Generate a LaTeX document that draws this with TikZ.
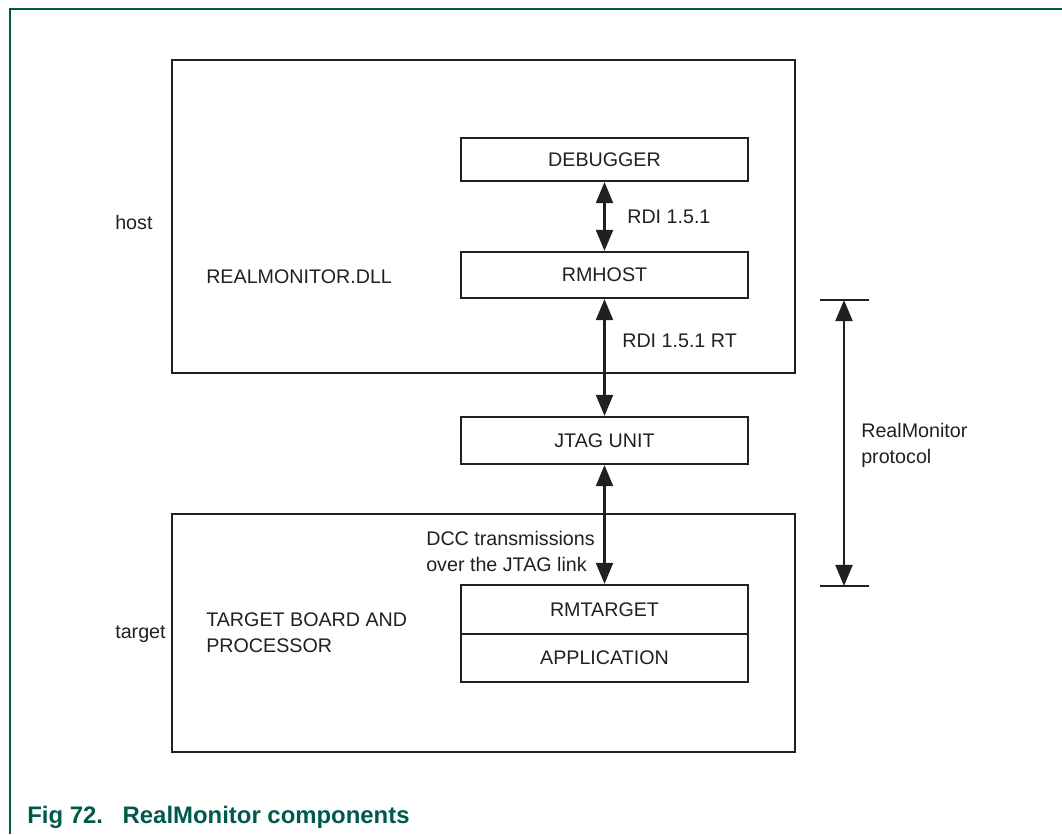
\documentclass[tikz,border=0pt]{standalone}
\usepackage{fontspec}
\setmainfont{Liberation Sans}
\usepackage{xcolor}
\usepackage{tikz}
\usetikzlibrary{arrows.meta,positioning}
\definecolor{nxpgreen}{HTML}{005A4B}
\definecolor{ink}{HTML}{231F20}

\begin{document}
\begin{tikzpicture}[x=0.025cm,y=-0.025cm,
          every node/.style={font=\fontsize{14}{18.5}\selectfont,text=ink},
          outerbox/.style={draw=ink,line width=1.6pt,minimum width=15.575cm},
          unitbox/.style={draw=ink,line width=1.5pt,minimum width=7.175cm,align=center},
          lbl/.style={inner sep=0pt,anchor=west,align=left},
          link/.style={draw=ink,line width=1.9pt,{Triangle[length=15pt,width=12pt]}-{Triangle[length=15pt,width=12pt]}},
      ]
        \useasboundingbox (0,0) rectangle (1062,834);
        % page frame
        \draw[nxpgreen,line width=0.8pt] (10,834) -- (10,9) -- (1062,9);

        % host side
        \node[outerbox,minimum height=7.825cm] (host) at (483.5,216.5) {};
        \node[unitbox,minimum height=1.075cm] (debugger) at (604.5,159.5) {DEBUGGER};
        \node[unitbox,minimum height=1.15cm] (rmhost) at (604.5,275) {RMHOST};
        \node[lbl] (hostlbl) at (115,222) {host};
        \node[lbl] (dll) at (206,277) {REALMONITOR.DLL};

        \node[unitbox,minimum height=1.175cm] (jtag) at (604.5,440.5) {JTAG UNIT};

        % target side
        \node[outerbox,minimum height=5.95cm] (target) at (483.5,633) {};
        \node[unitbox,minimum height=1.225cm] (rmtarget) at (604.5,609.5) {RMTARGET};
        \node[unitbox,minimum height=1.2cm] (app) at (604.5,658) {APPLICATION};
        \node[lbl] (targetlbl) at (115,634) {target};
        \node[lbl] (board) at (206,633) {TARGET BOARD AND\\PROCESSOR};

        % links
        \draw[link] (debugger.south) -- (rmhost.north);
        \draw[link] (rmhost.south) -- (jtag.north);
        \draw[link] (jtag.south) -- (rmtarget.north);
        \node[lbl] (rdi) at (627,217) {RDI 1.5.1};
        \node[lbl] (rdirt) at (622,341) {RDI 1.5.1 RT};
        \node[lbl] (dcc) at (426,551) {DCC transmissions\\over the JTAG link};

        % protocol span
        \coordinate (ptop) at (844,300);
        \coordinate (pbot) at (844,586);
        \draw[ink,line width=1.6pt] ([xshift=-0.6cm]ptop) -- ([xshift=0.625cm]ptop);
        \draw[ink,line width=1.6pt] ([xshift=-0.6cm]pbot) -- ([xshift=0.625cm]pbot);
        \draw[link] (ptop) -- (pbot);
        \node[lbl] (proto) at (861,445) {RealMonitor\\protocol};

        \node[lbl,text=nxpgreen,font=\fontsize{17}{20}\selectfont\bfseries] (caption) at (27,817)
          {Fig 72.\hspace{14pt}RealMonitor components};
\end{tikzpicture}
\end{document}
